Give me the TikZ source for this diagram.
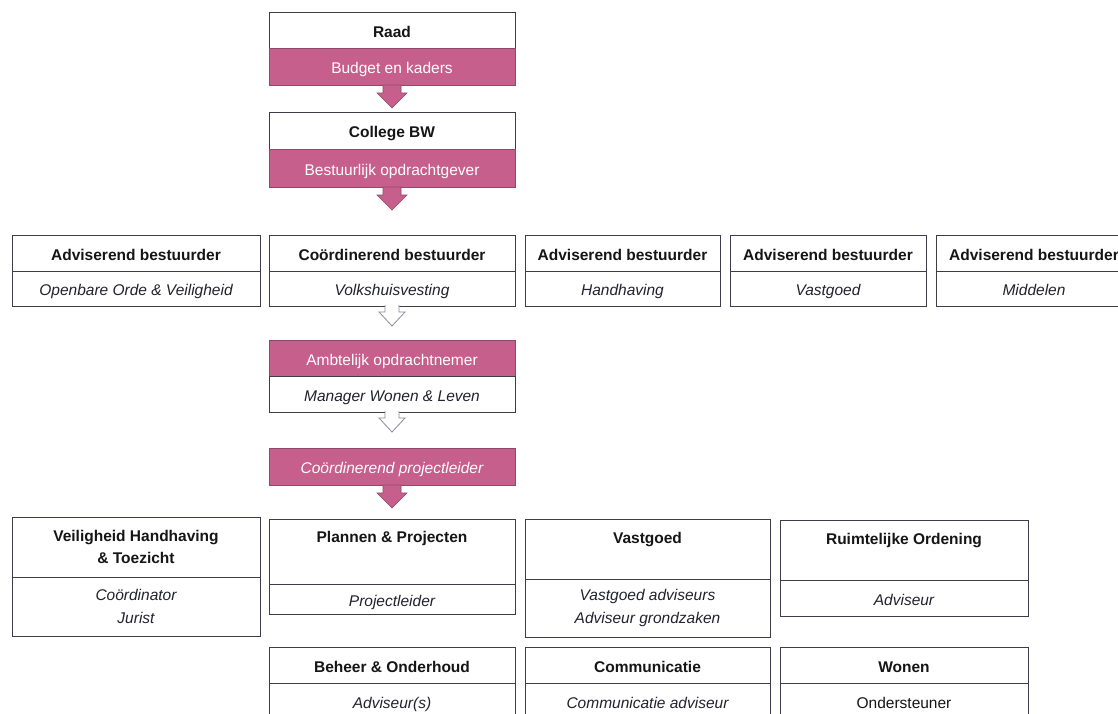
\documentclass[tikz,border=0pt]{standalone}
\usepackage{fontspec}
\setmainfont{Liberation Sans}
\usetikzlibrary{calc}
\definecolor{pk}{HTML}{C75F8C}
\definecolor{pkd}{HTML}{8E4A6A}
\definecolor{ln}{HTML}{3C3C4A}
\definecolor{hol}{HTML}{8C8A9A}
\definecolor{tx}{HTML}{151515}
\definecolor{it}{HTML}{22222E}
\tikzset{
 bx/.style={draw=ln, line width=1pt, fill=white, anchor=north west, inner sep=0pt, outer sep=0pt, align=center, text=tx, font=\fontsize{15.5}{22.5}\selectfont, text height=14pt, text depth=0pt},
 ml/.style={text height={}, text depth={}},
 hd/.style={bx, font=\fontsize{15.5}{22.5}\selectfont\bfseries},
 bd/.style={bx, font=\fontsize{15.5}{22.5}\selectfont\itshape, text=it},
 pkbox/.style={bx, fill=pk, draw=pkd, text=white},
 lbl/.style={font=\fontsize{15.5}{22.5}\selectfont\bfseries, text=tx, inner sep=0pt, text height=14pt, text depth=0pt},
}
\newcommand\pkarrow[1]{\filldraw[fill=pk, draw=pkd, line width=0.6pt] ($(#1)+(-9,0)$) -- ++(0,8) -- ++(-6,0) -- ++(15,15) -- ++(15,-15) -- ++(-6,0) -- ++(0,-8) -- cycle;}
\newcommand\holarrow[1]{\fill[white] ($(#1)+(-7,-1)$) -- ++(0,7) -- ++(-6,0) -- ++(13,14) -- ++(13,-14) -- ++(-6,0) -- ++(0,-7) -- cycle;
 \draw[hol, line width=0.8pt] ($(#1)+(-7,-1)$) -- ++(0,7) -- ++(-6,0) -- ++(13,14) -- ++(13,-14) -- ++(-6,0) -- ++(0,-7);}
\begin{document}
\begin{tikzpicture}[x=1pt,y=-1pt]
\path[use as bounding box] (0,0) rectangle (1118,713);
\clip (0,0) rectangle (1118,713);
\fill[white] (0,0) rectangle (1118,713);
% Raad
\node[hd, minimum width=246, minimum height=36] (raad) at (269,12) {Raad};
\node[pkbox, minimum width=246, minimum height=37] (budget) at (269,48) {Budget en kaders};
\pkarrow{budget.south}
% College
\node[hd, minimum width=246, minimum height=37] (college) at (269,112) {College BW};
\node[pkbox, minimum width=246, minimum height=38] (bestopd) at (269,149) {Bestuurlijk opdrachtgever};
\pkarrow{bestopd.south}
% Row 2
\node[hd, minimum width=248, minimum height=36] (a1h) at (12,235) {Adviserend bestuurder};
\node[bd, minimum width=248, minimum height=35] (a1b) at (12,271) {Openbare Orde \& Veiligheid};
\node[hd, minimum width=246, minimum height=36] (cbh) at (269,235) {Coördinerend bestuurder};
\node[bd, minimum width=246, minimum height=35] (cbb) at (269,271) {Volkshuisvesting};
\node[hd, minimum width=195, minimum height=36] (a3h) at (525,235) {Adviserend bestuurder};
\node[bd, minimum width=195, minimum height=35] (a3b) at (525,271) {Handhaving};
\node[hd, minimum width=196, minimum height=36] (a4h) at (730,235) {Adviserend bestuurder};
\node[bd, minimum width=196, minimum height=35] (a4b) at (730,271) {Vastgoed};
\node[hd, minimum width=196, minimum height=36] (a5h) at (936,235) {Adviserend bestuurder};
\node[bd, minimum width=196, minimum height=35] (a5b) at (936,271) {Middelen};
\holarrow{cbb.south}
% Ambtelijk
\node[pkbox, minimum width=246, minimum height=36] (ambt) at (269,340) {Ambtelijk opdrachtnemer};
\node[bd, minimum width=246, minimum height=36] (mgr) at (269,376) {Manager Wonen \& Leven};
\holarrow{mgr.south}
% Coordinerend projectleider
\node[pkbox, minimum width=246, minimum height=37, font=\fontsize{15.5}{22.5}\selectfont\itshape] (cpl) at (269,448) {Coördinerend projectleider};
\pkarrow{cpl.south}
% Row 3
\node[hd, ml, minimum width=248, minimum height=60] (vhth) at (12,517) {Veiligheid Handhaving\\ \& Toezicht};
\node[bd, ml, minimum width=248, minimum height=59] (vhtb) at (12,577) {Coördinator\\ Jurist};
\node[bx, minimum width=246, minimum height=65] (pph) at (269,519) {};
\node[lbl] (ppt) at (392,535.5) {Plannen \& Projecten};
\node[bd, minimum width=246, minimum height=30] (ppb) at (269,584) {Projectleider};
\node[bx, minimum width=245, minimum height=60] (vgh) at (525,519) {};
\node[lbl] (vgt) at (647.5,536.5) {Vastgoed};
\node[bd, ml, minimum width=245, minimum height=58] (vgb) at (525,579) {Vastgoed adviseurs\\ Adviseur grondzaken};
\node[bx, minimum width=248, minimum height=60] (roh) at (780,520) {};
\node[lbl] (rot) at (904,537.5) {Ruimtelijke Ordening};
\node[bd, minimum width=248, minimum height=36] (rob) at (780,580) {Adviseur};
% Row 4
\node[hd, minimum width=246, minimum height=36] (boh) at (269,647) {Beheer \& Onderhoud};
\node[bd, minimum width=246, minimum height=36] (bob) at (269,683) {Adviseur(s)};
\node[hd, minimum width=245, minimum height=36] (coh) at (525,647) {Communicatie};
\node[bd, minimum width=245, minimum height=36] (cob) at (525,683) {Communicatie adviseur};
\node[hd, minimum width=248, minimum height=36] (woh) at (780,647) {Wonen};
\node[bx, minimum width=248, minimum height=36] (wob) at (780,683) {Ondersteuner};
\end{tikzpicture}
\end{document}
